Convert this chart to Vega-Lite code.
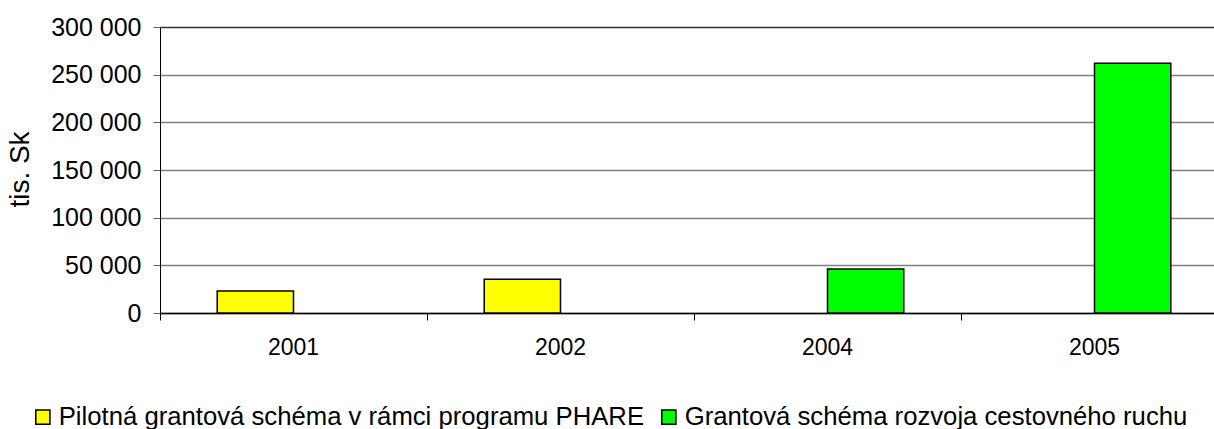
{
  "$schema": "https://vega.github.io/schema/vega-lite/v6.json",
  "width": 1054,
  "height": 286,
  "autosize": "none",
  "padding": {"left": 160, "top": 27, "right": 0, "bottom": 116},
  "background": "white",
  "config": {
    "font": "Liberation Sans",
    "view": {"stroke": null}
  },
  "data": {
    "values": [
      {"year": "2001", "series": "Pilotná grantová schéma v rámci programu PHARE", "value": 23000},
      {"year": "2002", "series": "Pilotná grantová schéma v rámci programu PHARE", "value": 35300},
      {"year": "2004", "series": "Grantová schéma rozvoja cestovného ruchu", "value": 46100},
      {"year": "2005", "series": "Grantová schéma rozvoja cestovného ruchu", "value": 262000}
    ]
  },
  "mark": {"type": "bar", "stroke": "black", "strokeWidth": 1.5},
  "encoding": {
    "x": {
      "field": "year",
      "type": "nominal",
      "scale": {"domain": ["2001", "2002", "2004", "2005"], "range": [0, 1068], "paddingInner": 0, "paddingOuter": 0},
      "axis": {
        "title": null,
        "labelAngle": 0,
        "bandPosition": 0,
        "labelFontSize": 23,
        "labelColor": "black",
        "labelPadding": 16,
        "tickSize": 7,
        "tickColor": "black",
        "domainColor": "black",
        "domainWidth": 1.5,
        "grid": false
      }
    },
    "xOffset": {
      "field": "series",
      "type": "nominal",
      "scale": {"domain": ["Pilotná grantová schéma v rámci programu PHARE", "Grantová schéma rozvoja cestovného ruchu"], "paddingOuter": 0.75, "paddingInner": 0}
    },
    "y": {
      "field": "value",
      "type": "quantitative",
      "scale": {"domain": [0, 300000], "nice": false},
      "axis": {
        "title": "tis. Sk",
        "titleFontSize": 28,
        "titleFontWeight": "normal",
        "titleColor": "black",
        "titleAngle": -90,
        "titleX": -140,
        "titleY": 142,
        "titleAlign": "center",
        "titleBaseline": "middle",
        "values": [0, 50000, 100000, 150000, 200000, 250000, 300000],
        "labelExpr": "replace(format(datum.value, ','), ',', ' ')",
        "labelFontSize": 25,
        "labelColor": "black",
        "labelPadding": 12,
        "tickSize": 7,
        "tickColor": "#606060",
        "domainColor": "black",
        "grid": true,
        "gridColor": {"condition": {"test": "datum.value === 300000", "value": "#333333"}, "value": "#808080"},
        "gridWidth": 1.5,
        "gridOpacity": 1
      }
    },
    "color": {
      "field": "series",
      "type": "nominal",
      "scale": {"domain": ["Pilotná grantová schéma v rámci programu PHARE", "Grantová schéma rozvoja cestovného ruchu"], "range": ["#FFFF00", "#00FF00"]},
      "legend": {
        "title": null,
        "orient": "none",
        "direction": "horizontal",
        "legendX": -130,
        "legendY": 377,
        "symbolType": "square",
        "symbolSize": 200,
        "symbolStrokeColor": "black",
        "symbolStrokeWidth": 1.5,
        "symbolOpacity": 1,
        "labelFontSize": 25.7,
        "labelColor": "black",
        "labelOffset": 3,
        "labelLimit": 1000,
        "columnPadding": 11
      }
    }
  }
}
